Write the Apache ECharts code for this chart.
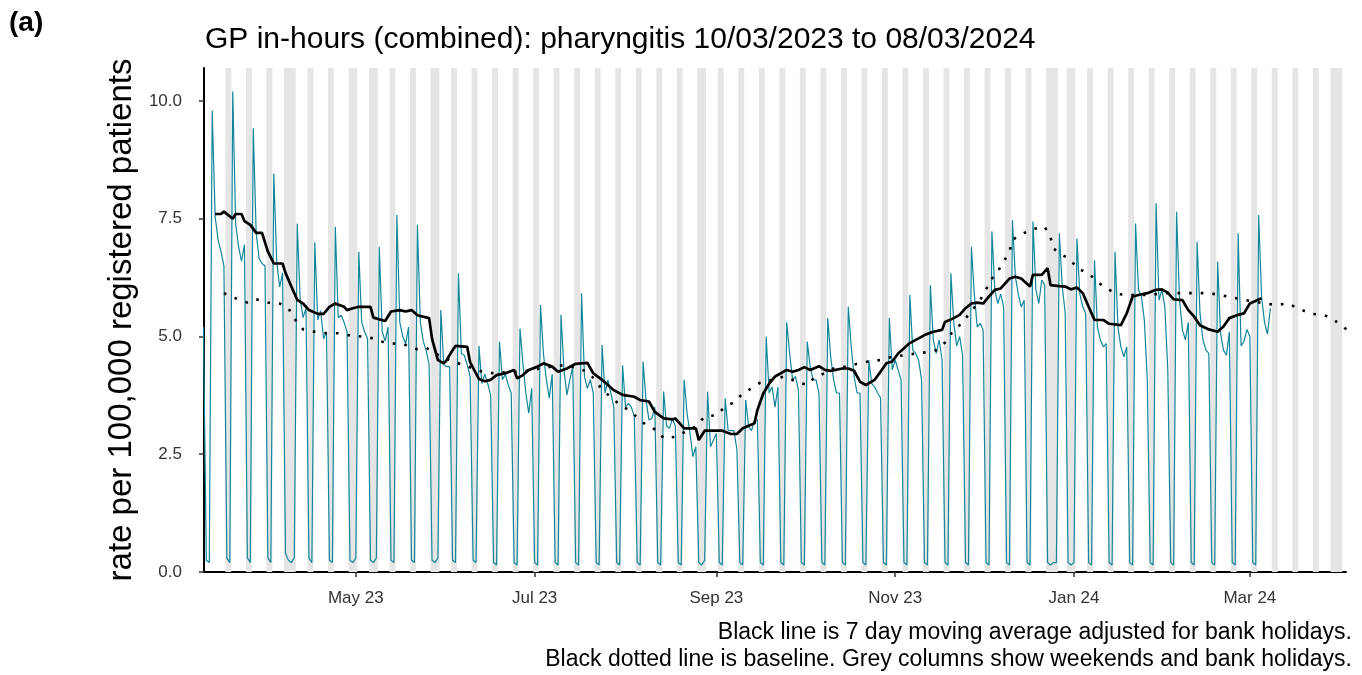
<!DOCTYPE html>
<html><head><meta charset="utf-8">
<script src="https://cdn.jsdelivr.net/npm/echarts@6/dist/echarts.min.js"></script>
<style>html,body{margin:0;padding:0;background:#fff}#c{width:1362px;height:675px}</style>
</head><body><div id="c"></div>
<script>
// ---------------- data ----------------
const startDate = '2023-03-10';   // first day of dailyRate (Friday)
const titleText = 'GP in-hours (combined): pharyngitis 10/03/2023 to 08/03/2024';
const yAxisTitle = 'rate per 100,000 registered patients';
const footnote1 = 'Black line is 7 day moving average adjusted for bank holidays.';
const footnote2 = 'Black dotted line is baseline. Grey columns show weekends and bank holidays.';

// daily rate, one value per day from 10/03/2023 to 08/03/2024
const dailyRate = [
  5.2, 0.25, 0.2,
  9.8, 7.55, 7.05, 6.8, 6.5, 0.3, 0.2,
  10.2, 7.4, 6.9, 6.6, 6.95, 0.3, 0.2,
  9.42, 7.2, 6.65, 6.55, 6.5, 0.3, 0.2,
  8.46, 6.6, 6.05, 6.35, 0.4, 0.25, 0.2,
  0.3, 7.4, 5.8, 5.4, 5.6, 0.3, 0.2,
  7.0, 5.35, 5.55, 4.95, 5.1, 0.25, 0.2,
  7.33, 5.4, 5.45, 5.3, 5.1, 0.25, 0.2,
  0.3, 6.8, 5.3, 5.1, 4.95, 0.25, 0.2,
  0.3, 6.9, 5.1, 4.9, 5.2, 0.25, 0.2,
  7.58, 5.3, 5.0, 4.85, 5.2, 0.25, 0.2,
  7.37, 5.3, 4.9, 4.7, 4.4, 0.25, 0.2,
  0.3, 5.56, 4.4, 4.36, 4.36, 0.25, 0.2,
  6.34, 4.64, 4.6, 4.4, 4.15, 0.25, 0.2,
  4.8, 4.0, 4.2, 4.0, 3.75, 0.2, 0.15,
  4.89, 4.08, 4.2, 3.97, 3.8, 0.2, 0.15,
  5.17, 4.43, 3.8, 3.37, 3.9, 0.2, 0.15,
  5.67, 4.64, 4.08, 3.69, 4.2, 0.2, 0.15,
  5.46, 4.3, 3.76, 4.08, 4.36, 0.2, 0.15,
  5.92, 4.15, 3.9, 4.08, 3.8, 0.2, 0.15,
  4.82, 3.8, 4.08, 3.8, 3.5, 0.2, 0.15,
  4.39, 3.5, 3.58, 3.5, 3.3, 0.2, 0.15,
  4.47, 3.65, 3.23, 3.26, 3.5, 0.2, 0.15,
  3.83, 3.1, 3.05, 3.25, 3.1, 0.2, 0.15,
  4.08, 3.37, 2.94, 2.45, 2.66, 0.2, 0.15,
  0.25, 3.83, 2.66, 2.8, 2.94, 0.2, 0.15,
  3.69, 3.01, 3.0, 3.0, 2.6, 0.2, 0.15,
  3.65, 3.09, 3.0, 3.23, 3.23, 0.2, 0.15,
  5.0, 3.8, 3.93, 3.5, 3.93, 0.2, 0.15,
  5.3, 4.64, 4.08, 4.15, 3.86, 0.2, 0.15,
  4.89, 4.36, 4.08, 4.08, 3.8, 0.2, 0.15,
  5.39, 4.57, 4.08, 3.8, 3.8, 0.2, 0.15,
  5.63, 4.78, 4.15, 3.8, 3.8, 0.2, 0.15,
  4.5, 4.0, 3.93, 3.8, 3.7, 0.2, 0.15,
  5.39, 4.29, 4.5, 4.29, 4.08, 0.2, 0.15,
  5.88, 4.71, 4.64, 4.5, 4.08, 0.2, 0.15,
  6.09, 4.93, 4.64, 4.93, 4.5, 0.2, 0.15,
  6.34, 5.28, 4.8, 5.0, 4.6, 0.2, 0.15,
  6.9, 5.9, 5.2, 5.28, 5.14, 0.2, 0.15,
  7.23, 5.99, 5.7, 5.9, 5.63, 0.2, 0.15,
  7.47, 6.27, 5.9, 5.63, 5.77, 0.2, 0.15,
  7.44, 6.0, 5.7, 6.2, 6.1, 0.2, 0.15,
  0.2, 0.2, 7.19, 6.06, 5.5, 0.2, 0.15,
  0.2, 7.08, 5.9, 5.63, 5.49, 0.2, 0.15,
  6.62, 5.2, 4.93, 4.78, 4.85, 0.2, 0.15,
  6.8, 5.2, 4.78, 4.57, 4.78, 0.2, 0.15,
  7.4, 5.99, 5.85, 5.35, 4.1, 0.2, 0.15,
  7.83, 5.77, 5.99, 5.63, 4.3, 0.2, 0.15,
  7.65, 5.77, 5.14, 4.93, 5.3, 0.2, 0.15,
  7.01, 5.49, 4.93, 4.71, 4.64, 0.2, 0.15,
  6.59, 5.07, 4.71, 4.6, 5.1, 0.2, 0.15,
  7.19, 4.8, 4.9, 5.15, 5.0, 0.2, 0.15,
  7.58, 5.85, 5.3, 5.05, 5.6
];

// 7 day moving average: [day number counted from startDate, value]
const movingAverage = [
  [4,7.6],[6,7.6],[7,7.65],[9,7.55],[10,7.5],[11,7.6],[13,7.6],[14,7.45],[16,7.37],[18,7.2],
  [20,7.2],[21,7.0],[22,6.8],[24,6.55],[27,6.55],[28,6.35],[30,6.06],[32,5.78],[34,5.7],[36,5.56],
  [39,5.48],[41,5.48],[43,5.63],[45,5.7],[48,5.63],[49,5.56],[51,5.6],[53,5.63],[57,5.63],[58,5.4],
  [62,5.33],[64,5.53],[67,5.56],[69,5.53],[71,5.56],[73,5.45],[77,5.39],[78,4.95],[80,4.5],[82,4.43],
  [83,4.5],[85,4.71],[86,4.8],[90,4.78],[91,4.45],[94,4.1],[96,4.05],[98,4.08],[100,4.18],[103,4.22],
  [106,4.29],[107,4.11],[109,4.18],[111,4.29],[114,4.36],[116,4.43],[119,4.36],[121,4.25],[124,4.32],[127,4.42],
  [131,4.44],[133,4.22],[136,4.08],[138,3.97],[140,3.86],[143,3.76],[147,3.72],[149,3.65],[152,3.62],[154,3.4],
  [157,3.26],[160,3.24],[161,3.26],[164,3.05],[168,3.05],[169,2.8],[171,3.0],[177,3.0],[180,2.93],[182,2.93],
  [184,3.05],[188,3.16],[189,3.44],[191,3.79],[193,4.0],[195,4.15],[197,4.22],[199,4.29],[201,4.25],[203,4.29],
  [205,4.35],[207,4.29],[210,4.37],[212,4.29],[214,4.27],[218,4.32],[220,4.32],[222,4.27],[224,4.04],[226,3.97],
  [229,4.08],[231,4.25],[233,4.43],[235,4.47],[237,4.64],[241,4.86],[244,4.96],[246,5.03],[249,5.1],[252,5.14],
  [253,5.31],[256,5.39],[258,5.46],[260,5.6],[262,5.7],[264,5.72],[266,5.7],[268,5.85],[270,5.99],[272,6.02],
  [275,6.23],[277,6.27],[279,6.23],[282,6.06],[283,6.31],[286,6.31],[288,6.45],[289,6.09],[292,6.07],[294,6.06],
  [296,6.0],[298,6.04],[300,5.92],[302,5.63],[304,5.35],[307,5.35],[309,5.27],[313,5.24],[315,5.49],[317,5.85],
  [319,5.88],[322,5.92],[325,5.99],[327,6.0],[329,5.93],[331,5.79],[334,5.77],[336,5.56],[338,5.42],[340,5.24],
  [343,5.15],[346,5.1],[348,5.21],[350,5.39],[353,5.46],[355,5.49],[357,5.7],[361,5.81]
];

// baseline: [day number counted from startDate, value]
const baseline = [
  [7,5.92],[11,5.81],[15,5.72],[18,5.79],[22,5.72],[26,5.7],[29,5.6],[31,5.38],[34,5.15],[38,5.1],
  [42,5.07],[46,5.07],[50,5.02],[54,5.0],[58,4.96],[61,4.89],[65,4.85],[69,4.82],[73,4.73],[76,4.76],
  [79,4.64],[85,4.47],[89,4.39],[96,4.23],[100,4.22],[104,4.25],[108,4.25],[112,4.29],[115,4.32],[119,4.36],
  [123,4.39],[127,4.34],[131,4.25],[134,4.06],[136,3.86],[139,3.72],[142,3.55],[145,3.44],[148,3.28],[151,3.12],
  [155,3.0],[157,2.84],[161,2.87],[168,3.09],[171,3.3],[175,3.33],[178,3.51],[181,3.6],[184,3.79],[187,3.9],
  [190,4.02],[194,4.08],[198,4.15],[202,4.05],[206,3.97],[208,4.1],[215,4.32],[219,4.36],[223,4.42],[227,4.47],
  [231,4.5],[235,4.57],[239,4.6],[243,4.64],[246,4.66],[250,4.71],[253,4.87],[256,5.14],[258,5.24],[261,5.46],
  [265,5.77],[267,6.0],[269,6.23],[271,6.38],[273,6.59],[275,6.8],[276,7.05],[279,7.17],[283,7.28],[287,7.33],
  [289,7.1],[290,6.87],[292,6.77],[296,6.62],[298,6.45],[302,6.34],[305,6.16],[308,6.02],[312,5.9],[315,5.88],
  [319,5.88],[323,5.88],[327,5.92],[331,5.92],[335,5.92],[339,5.92],[343,5.92],[347,5.88],[351,5.83],[354,5.79],
  [362,5.7],[366,5.67],[370,5.7],[374,5.58],[378,5.48],[382,5.46],[385,5.39],[388,5.24],[390,5.15]
];

const bankHolidays = ['2023-04-07','2023-04-10','2023-05-01','2023-05-08','2023-05-29','2023-08-28',
  '2023-12-25','2023-12-26','2024-01-01','2024-03-29','2024-04-01'];
const shadeFrom = '2023-03-13';
const shadeTo = '2024-04-02';

const tickDates = ['2023-05-01','2023-07-01','2023-09-01','2023-11-01','2024-01-01','2024-03-01'];
const tickLabels = ['May 23','Jul 23','Sep 23','Nov 23','Jan 24','Mar 24'];
const yTicks = [0, 2.5, 5, 7.5, 10];

// ---------------- build ----------------
const DAY = 86400000;
const T = s => Date.parse(s + 'T00:00:00Z');
const t0 = T(startDate);
const FONT = '"Liberation Sans", Arial, sans-serif';

const tealData = dailyRate.map((v, i) => [t0 + i * DAY, v]);
const maData = movingAverage.map(([d, v]) => [t0 + d * DAY, v]);
const baseData = baseline.map(([d, v]) => [t0 + d * DAY, v]);

const holidaySet = new Set(bankHolidays.map(T));
const areas = [];
let cur = null;
for (let t = T(shadeFrom); t <= T(shadeTo); t += DAY) {
  const dow = new Date(t).getUTCDay();
  if (dow === 0 || dow === 6 || holidaySet.has(t)) {
    if (cur && cur[1] === t - DAY / 2) cur[1] = t + DAY / 2;
    else { cur = [t - DAY / 2, t + DAY / 2]; areas.push(cur); }
  }
}
const markAreaData = areas.map(([a, b]) => [{ xAxis: a }, { xAxis: b }]);
const tickTimes = tickDates.map(T);

const chart = echarts.init(document.getElementById('c'), null, { renderer: 'canvas' });
chart.setOption({
  animation: false,
  backgroundColor: '#ffffff',
  textStyle: { fontFamily: FONT },
  title: [
    { text: '(a)', left: 4, top: 4, textStyle: { fontFamily: FONT, fontSize: 28, fontWeight: 'bold', color: '#000' } },
    { text: titleText, left: 200, top: 20, textStyle: { fontFamily: FONT, fontSize: 30, fontWeight: 'normal', color: '#000' } }
  ],
  grid: { left: 204, right: 16, top: 68, bottom: 103, containLabel: false },
  xAxis: {
    type: 'value',
    min: t0 + 0.2 * DAY,
    max: t0 + 389.8 * DAY,
    axisLine: { show: true, lineStyle: { color: '#000', width: 2 } },
    axisTick: { show: true, customValues: tickTimes, length: 5, lineStyle: { color: '#333', width: 1.5 } },
    axisLabel: {
      customValues: tickTimes,
      formatter: v => { const k = tickTimes.indexOf(v); return k >= 0 ? tickLabels[k] : ''; },
      color: '#333', fontSize: 17, margin: 18, fontFamily: FONT
    },
    splitLine: { show: false }
  },
  yAxis: {
    type: 'value', min: 0, max: 10.7,
    name: yAxisTitle, nameLocation: 'middle', nameGap: 58, nameRotate: 90,
    nameTextStyle: { fontSize: 33, color: '#000', fontFamily: FONT },
    axisLine: { show: true, lineStyle: { color: '#000', width: 2 } },
    axisTick: { show: true, customValues: yTicks, length: 5, lineStyle: { color: '#333', width: 1.5 } },
    axisLabel: { customValues: yTicks, formatter: v => v.toFixed(1), color: '#333', fontSize: 17, margin: 22, fontFamily: FONT },
    splitLine: { show: false }
  },
  graphic: [
    { type: 'text', right: 10, top: 621, style: { text: footnote1, font: '23px ' + FONT, fill: '#000', textAlign: 'right' } },
    { type: 'text', right: 10, top: 648, style: { text: footnote2, font: '23px ' + FONT, fill: '#000', textAlign: 'right' } }
  ],
  series: [
    {
      type: 'line', name: 'shade', data: [[t0, null]], symbol: 'none', silent: true, z: 1,
      markArea: { silent: true, itemStyle: { color: '#e5e5e5' }, label: { show: false }, data: markAreaData }
    },
    {
      type: 'line', name: 'daily', data: tealData, symbol: 'none', z: 3,
      lineStyle: { color: '#12869a', width: 1.2 }
    },
    {
      type: 'line', name: 'baseline', data: baseData, symbol: 'none', z: 4, smooth: false,
      lineStyle: { color: '#000', width: 2.6, type: [2.6, 9] }
    },
    {
      type: 'line', name: 'ma', data: maData, symbol: 'none', z: 5,
      lineStyle: { color: '#000', width: 2.7 }
    }
  ]
});
</script>
</body></html>
